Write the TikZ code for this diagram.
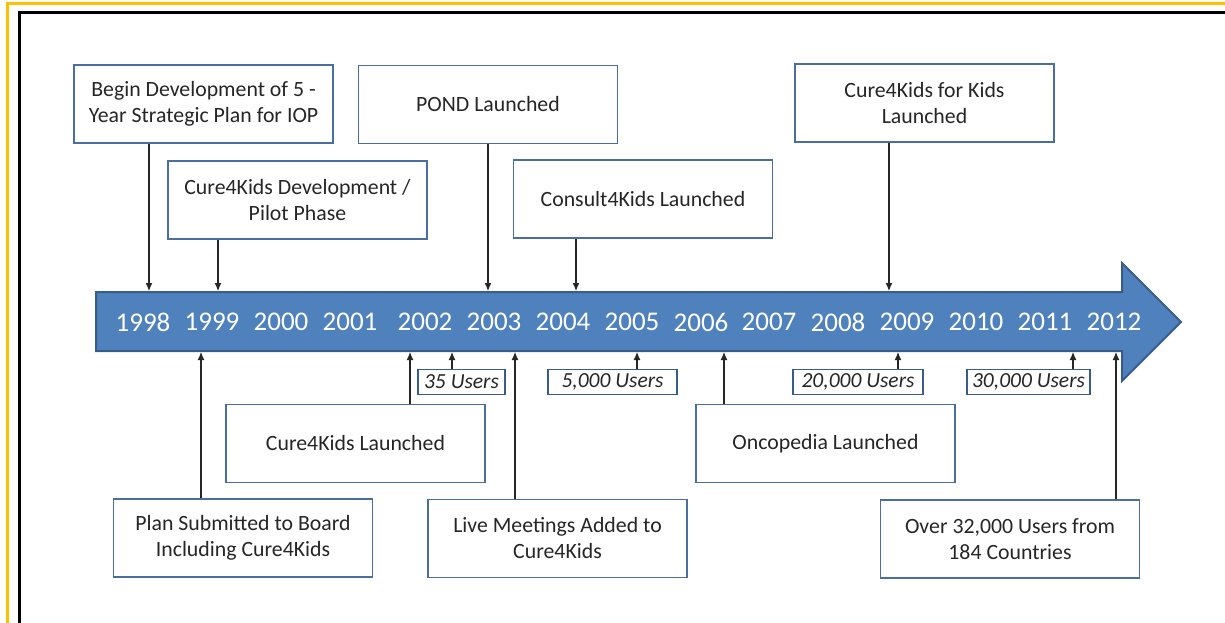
\documentclass[tikz,border=0pt]{standalone}
\usepackage{fontspec}
\setmainfont{Carlito}
\usetikzlibrary{arrows.meta}
\definecolor{boxblue}{RGB}{74,110,160}
\definecolor{barblue}{RGB}{79,129,189}
\definecolor{barline}{RGB}{56,93,138}
\definecolor{frameyellow}{RGB}{255,192,0}
\definecolor{textgray}{RGB}{38,38,38}

\begin{document}
\begin{tikzpicture}[x=1pt, y=-1pt, >={Latex[length=8pt,width=7pt]}]
  \tikzstyle{event} = [draw=boxblue, line width=1.6pt, fill=white,
    text=textgray, minimum width=259pt, minimum height=78pt, align=center,
    font=\fontsize{21.8}{26}\selectfont]
  \tikzstyle{users} = [draw=barline, line width=1.4pt, fill=white,
    text=textgray, inner sep=0pt, minimum height=25pt,
    font=\fontsize{21.5}{24}\selectfont\itshape]
  \tikzstyle{year} = [text=white, font=\fontsize{27}{30}\selectfont]
  \tikzstyle{link} = [->, line width=1.1pt, draw=black!85]
  \useasboundingbox (0,0) rectangle (1225,623);
  % frame
  \draw[frameyellow, line width=3pt] (1225,4) -- (7,4) -- (7,623);
  \draw[black, line width=3pt] (1225,13) -- (19,13) -- (19,623);
  % timeline arrow
  \draw[fill=barblue, draw=barline, line width=2pt] (96,292) -- (1122,292)
    -- (1122,263) -- (1181,322) -- (1122,381) -- (1122,351) -- (96,351) -- cycle;
  \foreach \yr/\x in {1998/143, 1999/212, 2000/281, 2001/350, 2002/425,
    2003/494, 2004/563, 2005/632, 2006/701, 2007/769, 2008/838, 2009/907,
    2010/976, 2011/1045, 2012/1114}
    \node[year] (y\yr) at (\x,322) {\yr};
  % events above
  \node[event] (begin) at (203.5,104) {Begin Development of 5 -\\Year Strategic Plan for IOP};
  \node[event] (pilot) at (297.5,200) {Cure4Kids Development /\\Pilot Phase};
  \node[event] (pond) at (488,104.5) {POND Launched};
  \node[event] (consult) at (643,199) {Consult4Kids Launched};
  \node[event] (forkids) at (924.5,103) {Cure4Kids for Kids\\Launched};
  % events below
  \node[event] (launch) at (355.5,443.5) {Cure4Kids Launched};
  \node[event] (plan) at (243,538) {Plan Submitted to Board\\Including Cure4Kids};
  \node[event] (live) at (557.5,538.5) {Live Meetings Added to\\Cure4Kids};
  \node[event] (onco) at (825.5,443.5) {Oncopedia Launched};
  \node[event] (over) at (1010,539) {Over 32,000 Users from\\184 Countries};
  % user counts
  \node[users, minimum width=87pt] (u35) at (461.5,382) {35 Users};
  \node[users, minimum width=129pt] (u5000) at (612.5,382) {5,000 Users};
  \node[users, minimum width=130pt] (u20000) at (858,382) {20,000 Users};
  \node[users, minimum width=123pt] (u30000) at (1028.5,382) {30,000 Users};
  % connectors
  \foreach \n/\x in {begin/149, pilot/218, pond/488, consult/576, forkids/889} {
    \coordinate (\n tip) at (\x,291);
    \draw[link] (\n.south -| \n tip) -- (\n tip);
  }
  \foreach \n/\x in {launch/410, u35/452, plan/201, live/515, u5000/637,
    onco/724, u20000/898, u30000/1073, over/1116} {
    \coordinate (\n tip) at (\x,352);
    \draw[link] (\n.north -| \n tip) -- (\n tip);
  }
\end{tikzpicture}
\end{document}
